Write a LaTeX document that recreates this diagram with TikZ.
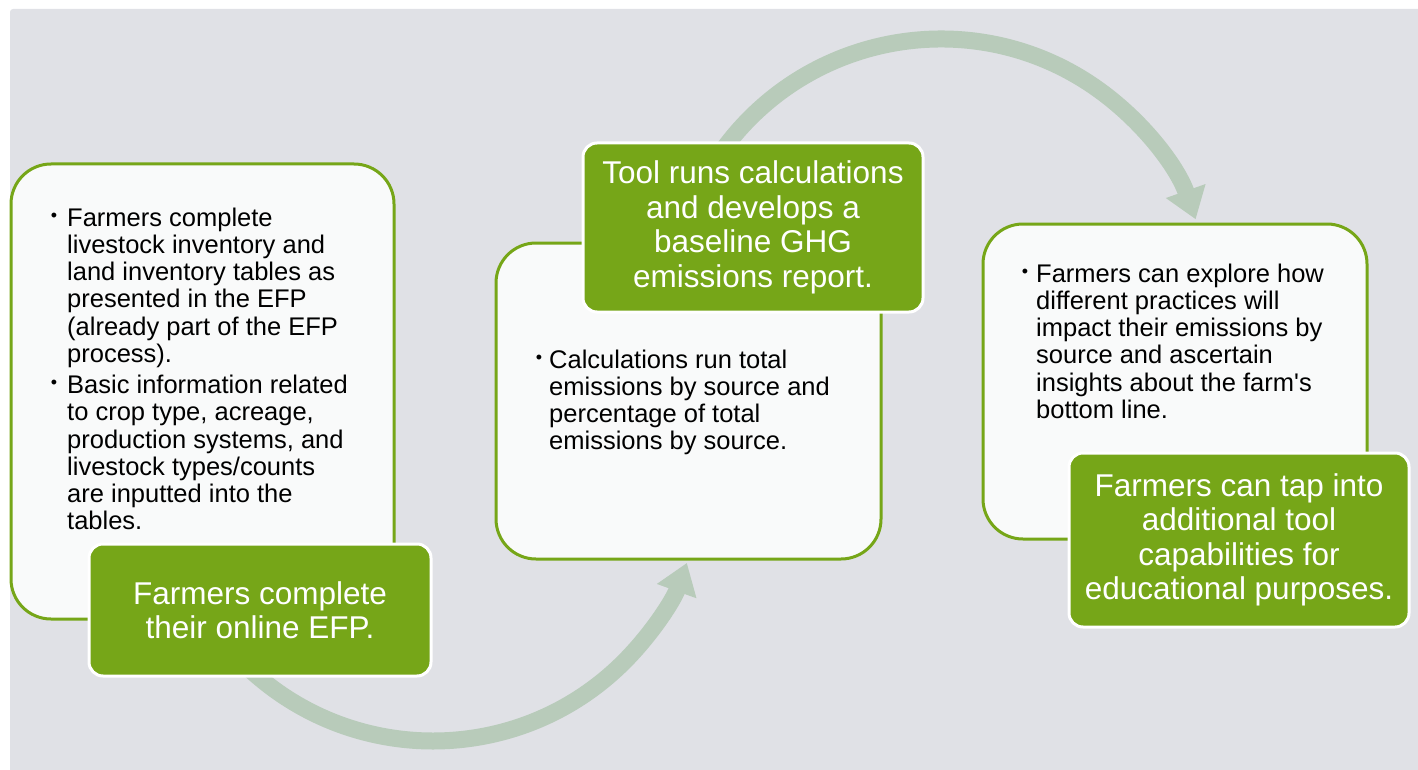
\documentclass[tikz,border=0pt]{standalone}
\usepackage{fontspec}
\setmainfont{Liberation Sans}
\usetikzlibrary{arrows.meta}

\definecolor{bgGray}{RGB}{224,225,230}
\definecolor{leaf}{RGB}{118,166,24}
\definecolor{paper}{RGB}{249,250,250}
\definecolor{sage}{RGB}{184,203,186}

\begin{document}
\begin{tikzpicture}[x=1pt,y=-1pt,
  panel/.style={draw=leaf, line width=3pt, fill=paper, rounded corners=40pt, inner sep=0pt},
  tag/.style={draw=white, line width=3pt, fill=leaf, rounded corners=14pt, text=white,
    align=center, inner sep=0pt, font=\fontsize{31.5}{34.5}\selectfont},
  flow/.style={draw=sage, line width=17pt, -{Triangle[length=30pt,width=40pt]}},
  bodytext/.style={anchor=base west, inner sep=0pt, font=\fontsize{25.5}{27.3}\selectfont},
  bulletmark/.style={inner sep=0pt, font=\fontsize{18}{18}\selectfont}]

\useasboundingbox (0,0) rectangle (1418,770);
\fill[bgGray, rounded corners=3pt] (10,9) rectangle (1422,774);

% centres of the two curved flow arrows
\coordinate (hub1) at (433,471);
\coordinate (hub2) at (941,309);

\draw[flow] (hub1) ++(135:270) arc[start angle=135, end angle=19.9, radius=270];
\draw[flow] (hub2) ++(215:270) arc[start angle=215, end angle=340.6, radius=270];

% white panels
\node[panel, minimum width=383pt, minimum height=455pt] (p1) at (202.5,391.5) {};
\node[panel, minimum width=385pt, minimum height=316pt] (p2) at (688.5,401) {};
\node[panel, minimum width=384pt, minimum height=315pt] (p3) at (1175,381.5) {};

% panel texts
\node[bulletmark] (p1b1) at (54,217) {•};
\node[bulletmark] (p1b2) at (54,384) {•};
\node[bodytext] (p1t) at (67,226) {\parbox[t]{330pt}{Farmers complete\\
livestock inventory and\\
land inventory tables as\\
presented in the EFP\\
(already part of the EFP\\
process).\\[3.6pt]
Basic information related\\
to crop type, acreage,\\
production systems, and\\
livestock types/counts\\
are inputted into the\\
tables.}};

\node[bulletmark] (p2b1) at (539,359) {•};
\node[bodytext] (p2t) at (549,368) {\parbox[t]{320pt}{Calculations run total\\
emissions by source and\\
percentage of total\\
emissions by source.}};

\node[bulletmark] (p3b1) at (1025,273) {•};
\node[bodytext] (p3t) at (1036,282) {\parbox[t]{320pt}{Farmers can explore how\\
different practices will\\
impact their emissions by\\
source and ascertain\\
insights about the farm\textquotesingle s\\
bottom line.}};

% green step labels
\node[tag, minimum width=342pt, minimum height=132pt] (g1) at (260,610)
  {Farmers complete\\their online EFP.};
\node[tag, minimum width=340pt, minimum height=169pt] (g2) at (753,227.5)
  {Tool runs calculations\\and develops a\\baseline GHG\\emissions report.};
\node[tag, minimum width=340pt, minimum height=174pt] (g3) at (1239,540)
  {Farmers can tap into\\additional tool\\capabilities for\\educational purposes.};
\end{tikzpicture}
\end{document}
